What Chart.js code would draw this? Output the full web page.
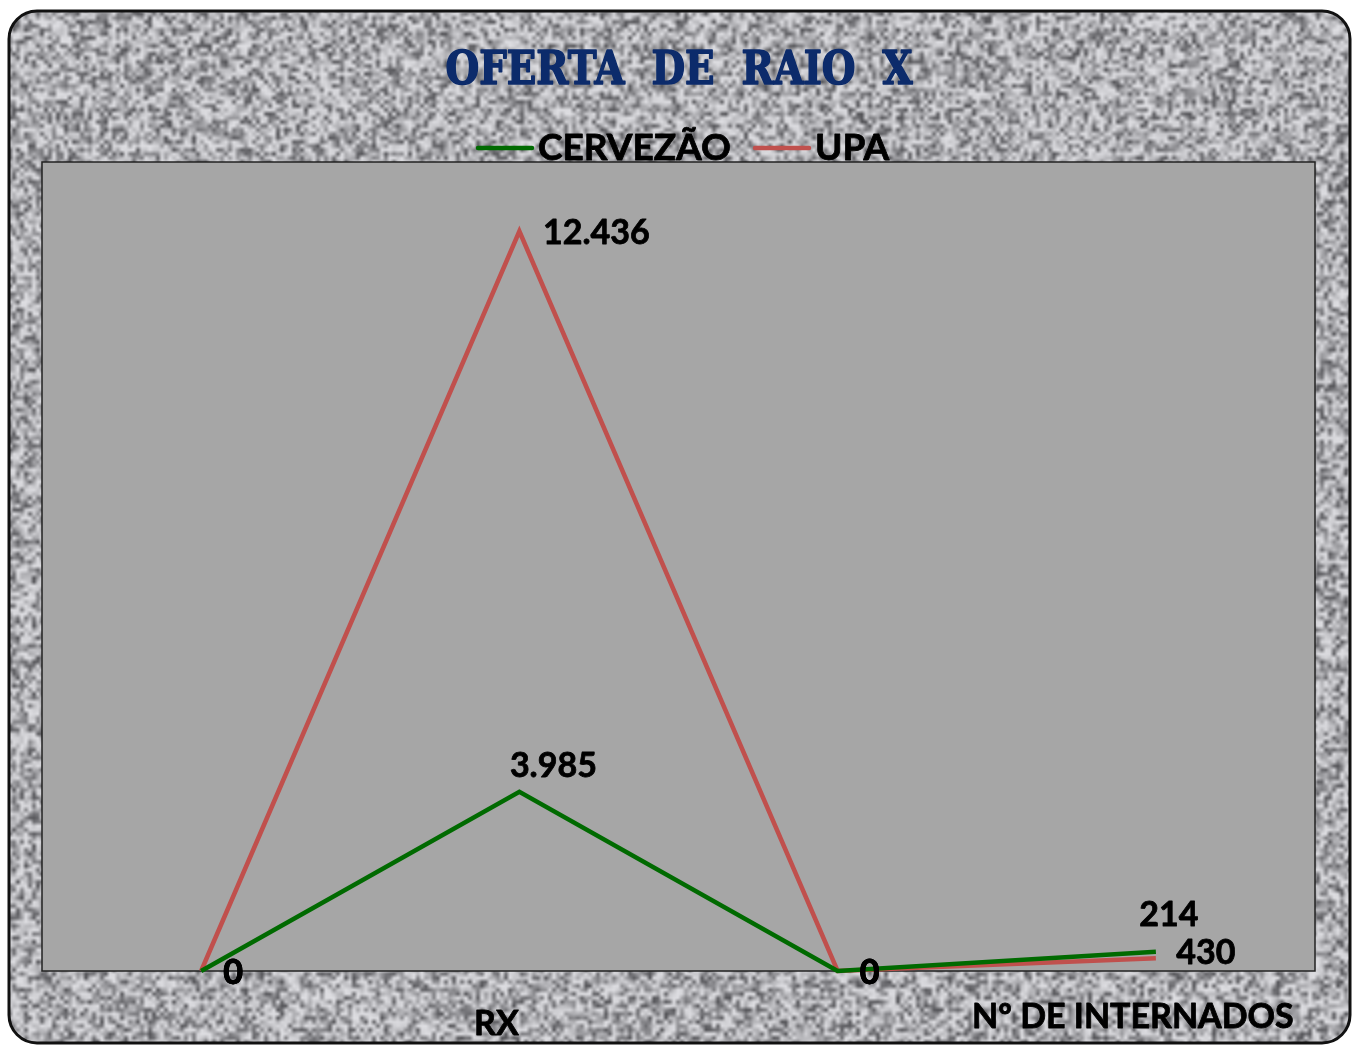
<!DOCTYPE html>
<html>
<head>
<meta charset="utf-8">
<script src="https://cdn.jsdelivr.net/npm/chart.js@4"></script>
<style>
  html, body { margin: 0; padding: 0; background: #fff; }
  #caixa { width: 1356px; height: 1046px; }
</style>
</head>
<body>
<div id="caixa"><canvas id="grafico"></canvas></div>
<script>
// Dados do gráfico
const categorias = ["", "RX", "", "Nº DE INTERNADOS"];
const cervezao = [0, 3985, 0, 430];
const upa = [0, 12436, 0, 214];
const titulo = "OFERTA  DE  RAIO  X";

const corVerde = "#006a00";
const corVermelha = "#c0504d";
const fonte = "Lato, 'Open Sans', sans-serif";

// formato 12.436
function formatar(v) {
    return String(v).replace(/\B(?=(\d{3})+(?!\d))/g, ".");
}

// textura de granito (pseudo-aleatória fixa)
function granito(w, h) {
    const c = document.createElement("canvas");
    c.width = w; c.height = h;
    const g = c.getContext("2d");
    const img = g.createImageData(w, h);
    let s = 987654321;
    for (let i = 0; i < w * h; i++) {
        s = (Math.imul(s, 1103515245) + 12345) >>> 0;
        const r = (s >>> 8) / 16777216;
        const v = 222 - 140 * Math.pow(r, 1.7);
        img.data[i * 4] = v;
        img.data[i * 4 + 1] = v;
        img.data[i * 4 + 2] = v + 4;
        img.data[i * 4 + 3] = 255;
    }
    g.putImageData(img, 0, 0);
    return c;
}
const textura = granito(370, 290);

// texto com traço para ficar mais pesado
function textoForte(ctx, t, x, y, traco) {
    ctx.lineWidth = traco;
    ctx.lineJoin = "round";
    ctx.strokeStyle = ctx.fillStyle;
    ctx.strokeText(t, x, y);
    ctx.fillText(t, x, y);
}

function retanguloRedondo(ctx, x, y, w, h, r) {
    ctx.beginPath();
    ctx.moveTo(x + r, y);
    ctx.lineTo(x + w - r, y);
    ctx.arcTo(x + w, y, x + w, y + r, r);
    ctx.lineTo(x + w, y + h - r);
    ctx.arcTo(x + w, y + h, x + w - r, y + h, r);
    ctx.lineTo(x + r, y + h);
    ctx.arcTo(x, y + h, x, y + h - r, r);
    ctx.lineTo(x, y + r);
    ctx.arcTo(x, y, x + r, y, r);
    ctx.closePath();
}

const fundo = {
    id: "fundo",
    beforeDraw(chart) {
        const ctx = chart.ctx;
        const a = chart.chartArea;
        ctx.save();
        ctx.fillStyle = "#fff";
        ctx.fillRect(0, 0, chart.width, chart.height);
        retanguloRedondo(ctx, 9, 11, 1341, 1032, 28);
        ctx.save();
        ctx.clip();
        ctx.imageSmoothingEnabled = true;
        ctx.drawImage(textura, 0, 0, 1480, 1160);
        ctx.restore();
        ctx.lineWidth = 3;
        ctx.strokeStyle = "#111";
        ctx.stroke();
        // área do gráfico
        ctx.fillStyle = "#a6a6a6";
        ctx.fillRect(a.left, a.top, a.width, a.height);
        ctx.lineWidth = 1.5;
        ctx.strokeStyle = "#222";
        ctx.strokeRect(a.left, a.top, a.width, a.height);
        ctx.restore();
    }
};

// rótulos de dados: deslocamentos em px a partir do ponto
const deslocamentos = [
    [[32, 13], [34, -15], [32, 13], [50, 12]],   // CERVEZÃO
    [[32, 13], [77, 13], [32, 13], [13, -32]]    // UPA
];

const rotulos = {
    id: "rotulos",
    afterDatasetsDraw(chart) {
        const ctx = chart.ctx;
        ctx.save();
        ctx.font = "bold 34px " + fonte;
        ctx.fillStyle = "#000";
        ctx.textAlign = "center";
        ctx.textBaseline = "alphabetic";
        chart.data.datasets.forEach((ds, i) => {
            const meta = chart.getDatasetMeta(i);
            meta.data.forEach((p, j) => {
                const d = deslocamentos[i][j];
                textoForte(ctx, formatar(ds.data[j]), p.x + d[0], p.y + d[1], 0.8);
            });
        });
        ctx.restore();
    },
    afterDraw(chart) {
        const ctx = chart.ctx;
        ctx.save();
        // título
        ctx.font = "bold 46px 'DejaVu Serif', serif";
        const largura = ctx.measureText(titulo).width;
        ctx.translate(679, 84);
        ctx.scale(467 / largura, 1);
        ctx.fillStyle = "#0c2b6b";
        ctx.textAlign = "center";
        ctx.textBaseline = "alphabetic";
        textoForte(ctx, titulo, 0, 0, 1.6);
        ctx.restore();

        // legenda
        ctx.save();
        ctx.font = "bold 37px " + fonte;
        ctx.textBaseline = "alphabetic";
        ctx.textAlign = "left";
        const itens = [[478, chart.data.datasets[0]], [755, chart.data.datasets[1]]];
        itens.forEach(([x, ds]) => {
            ctx.strokeStyle = ds.borderColor;
            ctx.lineWidth = 4.5;
            ctx.lineCap = "round";
            ctx.beginPath();
            ctx.moveTo(x, 148);
            ctx.lineTo(x + 54, 148);
            ctx.stroke();
            ctx.fillStyle = "#000";
            textoForte(ctx, ds.label, x + 60, 160, 0.8);
        });
        ctx.restore();

        // rótulos do eixo x
        ctx.save();
        const xs = chart.scales.x;
        ctx.font = "bold 34px " + fonte;
        ctx.fillStyle = "#000";
        ctx.textAlign = "center";
        ctx.textBaseline = "alphabetic";
        const ajusteY = [0, 1035, 0, 1028];
        categorias.forEach((c, i) => {
            if (!c) return;
            textoForte(ctx, c, xs.getPixelForValue(i) - 23, ajusteY[i], 0.8);
        });
        ctx.restore();
    }
};

const ctx = document.getElementById("grafico").getContext("2d");
const grafico = new Chart(ctx, {
    type: "line",
    data: {
        labels: categorias,
        datasets: [{
            label: "CERVEZÃO",
            data: cervezao,
            borderColor: corVerde,
            borderWidth: 4.5,
            pointRadius: 0,
            tension: 0,
            clip: false,
            yAxisID: "y2"
        }, {
            label: "UPA",
            data: upa,
            borderColor: corVermelha,
            borderWidth: 4.5,
            pointRadius: 0,
            tension: 0,
            clip: false,
            yAxisID: "y"
        }]
    },
    options: {
        responsive: true,
        maintainAspectRatio: false,
        animation: false,
        layout: { padding: { left: 42, right: 41, top: 162, bottom: 75 } },
        plugins: {
            legend: { display: false },
            title: { display: false },
            tooltip: { enabled: false }
        },
        scales: {
            x: { display: false, offset: true },
            y: { display: false, min: 0, max: 13600 },
            y2: { display: false, min: 0, max: 18000 }
        }
    },
    plugins: [fundo, rotulos]
});
</script>
</body>
</html>
